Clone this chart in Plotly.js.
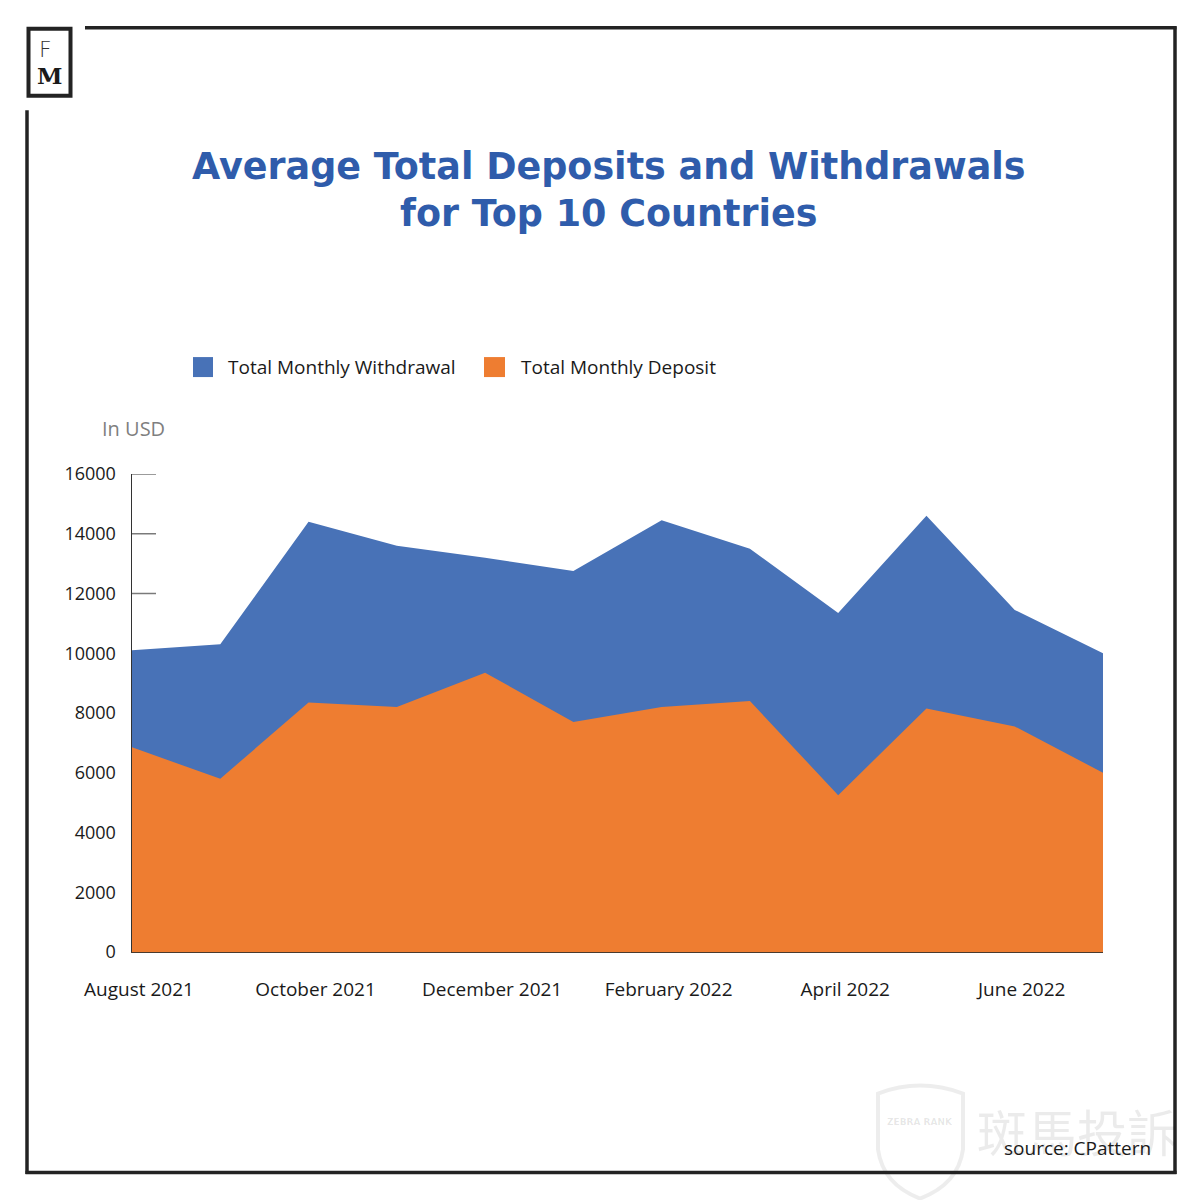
<!DOCTYPE html>
<html>
<head>
<meta charset="utf-8">
<script src="https://cdn.plot.ly/plotly-3.0.1.min.js"></script>
<style>
  html, body { margin: 0; padding: 0; background: #ffffff; }
  #chart { width: 1200px; height: 1200px; }
</style>
</head>
<body>
<div id="chart"></div>
<script>
// ---- Data ----
const months = ['Aug 2021', 'Sep 2021', 'Oct 2021', 'Nov 2021', 'Dec 2021', 'Jan 2022',
                'Feb 2022', 'Mar 2022', 'Apr 2022', 'May 2022', 'Jun 2022', 'Jul 2022'];
const withdrawal = [10100, 10300, 14400, 13600, 13200, 12750, 14450, 13500, 11350, 14600, 11450, 10000];
const deposit    = [6850, 5800, 8350, 8200, 9350, 7700, 8200, 8400, 5250, 8150, 7550, 6000];
const xTickVals  = ['Aug 2021', 'Oct 2021', 'Dec 2021', 'Feb 2022', 'Apr 2022', 'Jun 2022'];
const xTickText  = ['August 2021', 'October 2021', 'December 2021', 'February 2022', 'April 2022', 'June 2022'];
const yTickVals  = [0, 2000, 4000, 6000, 8000, 10000, 12000, 14000, 16000];
const seriesNames = ['Total Monthly Withdrawal', 'Total Monthly Deposit'];

// ---- Styles ----
const BLUE = '#4872b7';
const ORANGE = '#ee7d31';
const TITLE_BLUE = '#2f5cab';
const FRAME = '#232323';

// pixel -> paper helpers (plot area: x 132..1103, y 474..952.3)
const L = 132, R = 1103, T = 474, B = 952.3;
const W = 1200, H = 1200;
const px = v => (v - L) / (R - L);
const py = v => (B - v) / (B - T);

const traces = [
  {
    x: months, y: withdrawal, name: seriesNames[0], type: 'scatter', mode: 'lines',
    fill: 'tozeroy', fillcolor: BLUE, line: {width: 0, color: BLUE}, showlegend: false
  },
  {
    x: months, y: deposit, name: seriesNames[1], type: 'scatter', mode: 'lines',
    fill: 'tozeroy', fillcolor: ORANGE, line: {width: 0, color: ORANGE}, showlegend: false
  }
];

const shapes = [];
// y tick marks (drawn below the areas, like the reference)
yTickVals.forEach(v => {
  shapes.push({type: 'line', xref: 'paper', yref: 'y', x0: 0, x1: 24 / (R - L), y0: v, y1: v,
               line: {color: '#7a7a7a', width: 1.5}, layer: 'below'});
});
// outer frame
const fw = 3.5;
shapes.push({type: 'line', xref: 'paper', yref: 'paper', x0: px(85), x1: px(1176.5), y0: py(27.5), y1: py(27.5), line: {color: FRAME, width: fw}});
shapes.push({type: 'line', xref: 'paper', yref: 'paper', x0: px(1175), x1: px(1175), y0: py(26), y1: py(1174.5), line: {color: FRAME, width: fw}});
shapes.push({type: 'line', xref: 'paper', yref: 'paper', x0: px(25.5), x1: px(1176.5), y0: py(1173), y1: py(1173), line: {color: FRAME, width: fw}});
shapes.push({type: 'line', xref: 'paper', yref: 'paper', x0: px(27), x1: px(27), y0: py(110), y1: py(1174.5), line: {color: FRAME, width: fw}});
// logo box
shapes.push({type: 'rect', xref: 'paper', yref: 'paper', x0: px(28.5), x1: px(70.5), y0: py(28.5), y1: py(95.5), line: {color: FRAME, width: 4}, fillcolor: 'rgba(0,0,0,0)'});
// legend swatches
shapes.push({type: 'rect', xref: 'paper', yref: 'paper', x0: px(193), x1: px(213), y0: py(357), y1: py(377), line: {width: 0}, fillcolor: BLUE});
shapes.push({type: 'rect', xref: 'paper', yref: 'paper', x0: px(484), x1: px(505), y0: py(357), y1: py(377), line: {width: 0}, fillcolor: ORANGE});
// faint watermark shield
let shieldPath = 'M' + px(878) + ',' + py(1094) +
  ' Q' + px(920) + ',' + py(1078) + ' ' + px(963) + ',' + py(1094) +
  ' L' + px(963) + ',' + py(1150) +
  ' Q' + px(958) + ',' + py(1185) + ' ' + px(920) + ',' + py(1199) +
  ' Q' + px(883) + ',' + py(1185) + ' ' + px(878) + ',' + py(1150) + ' Z';
shapes.push({type: 'path', xref: 'paper', yref: 'paper', path: shieldPath, line: {color: 'rgba(0,0,0,0.07)', width: 4}, fillcolor: 'rgba(0,0,0,0)', layer: 'below'});

const FONT = 'Open Sans, Lato, sans-serif';
const annotations = [
  {xref: 'paper', yref: 'paper', x: px(609), y: py(190), xanchor: 'center', yanchor: 'middle', showarrow: false,
   text: '<b>Average Total Deposits and Withdrawals<br>for Top 10 Countries</b>',
   font: {family: 'DejaVu Sans, sans-serif', size: 36.5, color: TITLE_BLUE}},
  {xref: 'paper', yref: 'paper', x: px(226), y: py(367), xanchor: 'left', yanchor: 'middle', showarrow: false,
   text: seriesNames[0], font: {family: FONT, size: 19, color: '#1a1a1a'}},
  {xref: 'paper', yref: 'paper', x: px(519), y: py(367), xanchor: 'left', yanchor: 'middle', showarrow: false,
   text: seriesNames[1], font: {family: FONT, size: 19, color: '#1a1a1a'}},
  {xref: 'paper', yref: 'paper', x: px(100), y: py(428), xanchor: 'left', yanchor: 'middle', showarrow: false,
   text: 'In USD', font: {family: FONT, size: 20, color: '#7f7f7f'}},
  {xref: 'paper', yref: 'paper', x: px(45), y: py(49), xanchor: 'center', yanchor: 'middle', showarrow: false,
   text: 'F', font: {family: 'DejaVu Sans, sans-serif', size: 22, color: '#333', weight: 300}},
  {xref: 'paper', yref: 'paper', x: px(49.5), y: py(75), xanchor: 'center', yanchor: 'middle', showarrow: false,
   text: '<b>M</b>', font: {family: 'DejaVu Serif, serif', size: 23, color: '#1a1a1a'}},
  {xref: 'paper', yref: 'paper', x: px(1077), y: py(1130), xanchor: 'center', yanchor: 'middle', showarrow: false,
   text: '斑馬投訴', font: {family: 'Noto Sans CJK TC, sans-serif', size: 50, color: 'rgba(0,0,0,0.08)'}},
  {xref: 'paper', yref: 'paper', x: px(920), y: py(1122), xanchor: 'center', yanchor: 'middle', showarrow: false,
   text: '<b>ZEBRA RANK</b>', font: {family: 'DejaVu Sans, sans-serif', size: 9, color: 'rgba(0,0,0,0.10)'}},
  {xref: 'paper', yref: 'paper', x: px(1153), y: py(1148), xanchor: 'right', yanchor: 'middle', showarrow: false,
   text: 'source: CPattern', font: {family: FONT, size: 19, color: '#1a1a1a'}}
];

const layout = {
  width: W, height: H,
  margin: {l: L, r: W - R, t: T, b: H - B},
  paper_bgcolor: '#ffffff', plot_bgcolor: '#ffffff',
  showlegend: false,
  xaxis: {
    type: 'category', range: [0, months.length - 1],
    tickvals: xTickVals, ticktext: xTickText, ticks: '',
    showgrid: false, zeroline: false,
    showline: true, linecolor: '#4a3a2e', linewidth: 1.2,
    tickfont: {family: FONT, size: 19, color: '#1a1a1a'},
    ticklabelstandoff: 20, ticklabelshift: 7,
    layer: 'above traces', fixedrange: true
  },
  yaxis: {
    range: [0, 16000], tickvals: yTickVals, tickformat: 'd', ticks: '',
    showgrid: false, zeroline: false,
    showline: true, linecolor: '#333333', linewidth: 1.5,
    tickfont: {family: FONT, size: 18, color: '#1a1a1a'},
    ticklabelstandoff: 11,
    layer: 'above traces', fixedrange: true
  },
  shapes: shapes,
  annotations: annotations
};

Plotly.newPlot('chart', traces, layout, {staticPlot: true, displayModeBar: false});
</script>
</body>
</html>
